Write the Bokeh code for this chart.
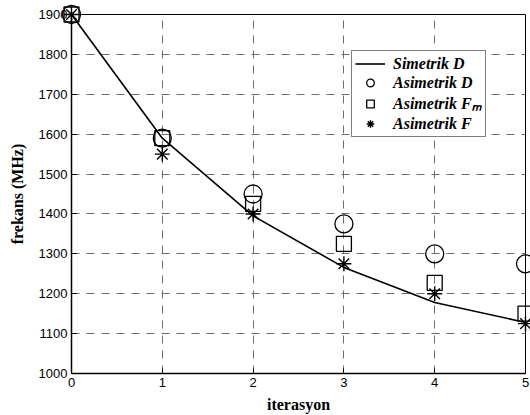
from bokeh.plotting import figure
from bokeh.models import Legend, LegendItem, Range1d, FixedTicker
from bokeh.embed import file_html
from bokeh.resources import INLINE

iterasyon = [0, 1, 2, 3, 4, 5]
simetrik_d = [1900, 1590, 1395, 1266, 1178, 1128]
asimetrik_d = [1900, 1590, 1450, 1375, 1300, 1275]
asimetrik_fm = [1900, 1590, 1425, 1325, 1227, 1150]
asimetrik_f = [1900, 1550, 1400, 1275, 1200, 1125]

x_ticks = [0, 1, 2, 3, 4, 5]
y_ticks = [1000, 1100, 1200, 1300, 1400, 1500, 1600, 1700, 1800, 1900]

p = figure(width=530, height=415, output_backend="svg", toolbar_location=None,
           x_range=Range1d(0, 5), y_range=Range1d(1000, 1900),
           min_border_left=71, min_border_right=5, min_border_top=14, min_border_bottom=42)

p.outline_line_color = "black"
p.outline_line_width = 1
p.background_fill_color = "white"
p.border_fill_color = "white"

for g in (p.xgrid[0], p.ygrid[0]):
    g.grid_line_color = "#6e6e6e"
    g.grid_line_dash = "8 7"
    g.grid_line_width = 1

p.xaxis.ticker = FixedTicker(ticks=x_ticks)
p.yaxis.ticker = FixedTicker(ticks=y_ticks)
for ax in (p.xaxis[0], p.yaxis[0]):
    ax.major_tick_in = 5
    ax.major_tick_out = 0
    ax.minor_tick_line_color = None
    ax.axis_line_color = "black"
    ax.axis_line_width = 1.5
    ax.major_tick_line_color = "black"
    ax.major_label_text_font = "Liberation Sans"
    ax.major_label_text_font_size = "13px"
    ax.major_label_text_color = "black"
    ax.axis_label_text_font = "Liberation Serif"
    ax.axis_label_text_font_style = "bold"
    ax.axis_label_text_font_size = "16px"
    ax.axis_label_text_color = "black"

p.xaxis.axis_label = "iterasyon"
p.yaxis.axis_label = "frekans (MHz)"
p.xaxis.major_label_standoff = 4
p.yaxis.major_label_standoff = 4
p.xaxis.axis_label_standoff = 6
p.yaxis.axis_label_standoff = 10

r_line = p.line(iterasyon, simetrik_d, line_color="black", line_width=1.6)
r_d = p.scatter(iterasyon, asimetrik_d, marker="circle", size=18, fill_color=None,
                line_color="black", line_width=1.3, level="overlay")
r_fm = p.scatter(iterasyon, asimetrik_fm, marker="square", size=15, fill_color=None,
                 line_color="black", line_width=1.3, level="overlay")
r_f = p.scatter(iterasyon, asimetrik_f, marker="asterisk", size=15,
                line_color="black", line_width=1.4, level="overlay")

legend = Legend(items=[
    LegendItem(label="Simetrik D", renderers=[r_line]),
    LegendItem(label="Asimetrik D", renderers=[r_d]),
    LegendItem(label="Asimetrik F\u2098", renderers=[r_fm]),
    LegendItem(label="Asimetrik F", renderers=[r_f]),
], location=(280, 236))
legend.label_text_font = "Liberation Serif"
legend.label_text_font_style = "bold italic"
legend.label_text_font_size = "16px"
legend.label_text_color = "black"
legend.label_height = 19
legend.glyph_height = 19
legend.glyph_width = 30
legend.label_standoff = 8
legend.spacing = 0
legend.padding = 3
legend.margin = 0
legend.border_line_color = "black"
legend.border_line_width = 1
legend.background_fill_color = "white"
legend.background_fill_alpha = 1
p.add_layout(legend, "center")

open("out.html", "w").write(file_html(p, INLINE))
